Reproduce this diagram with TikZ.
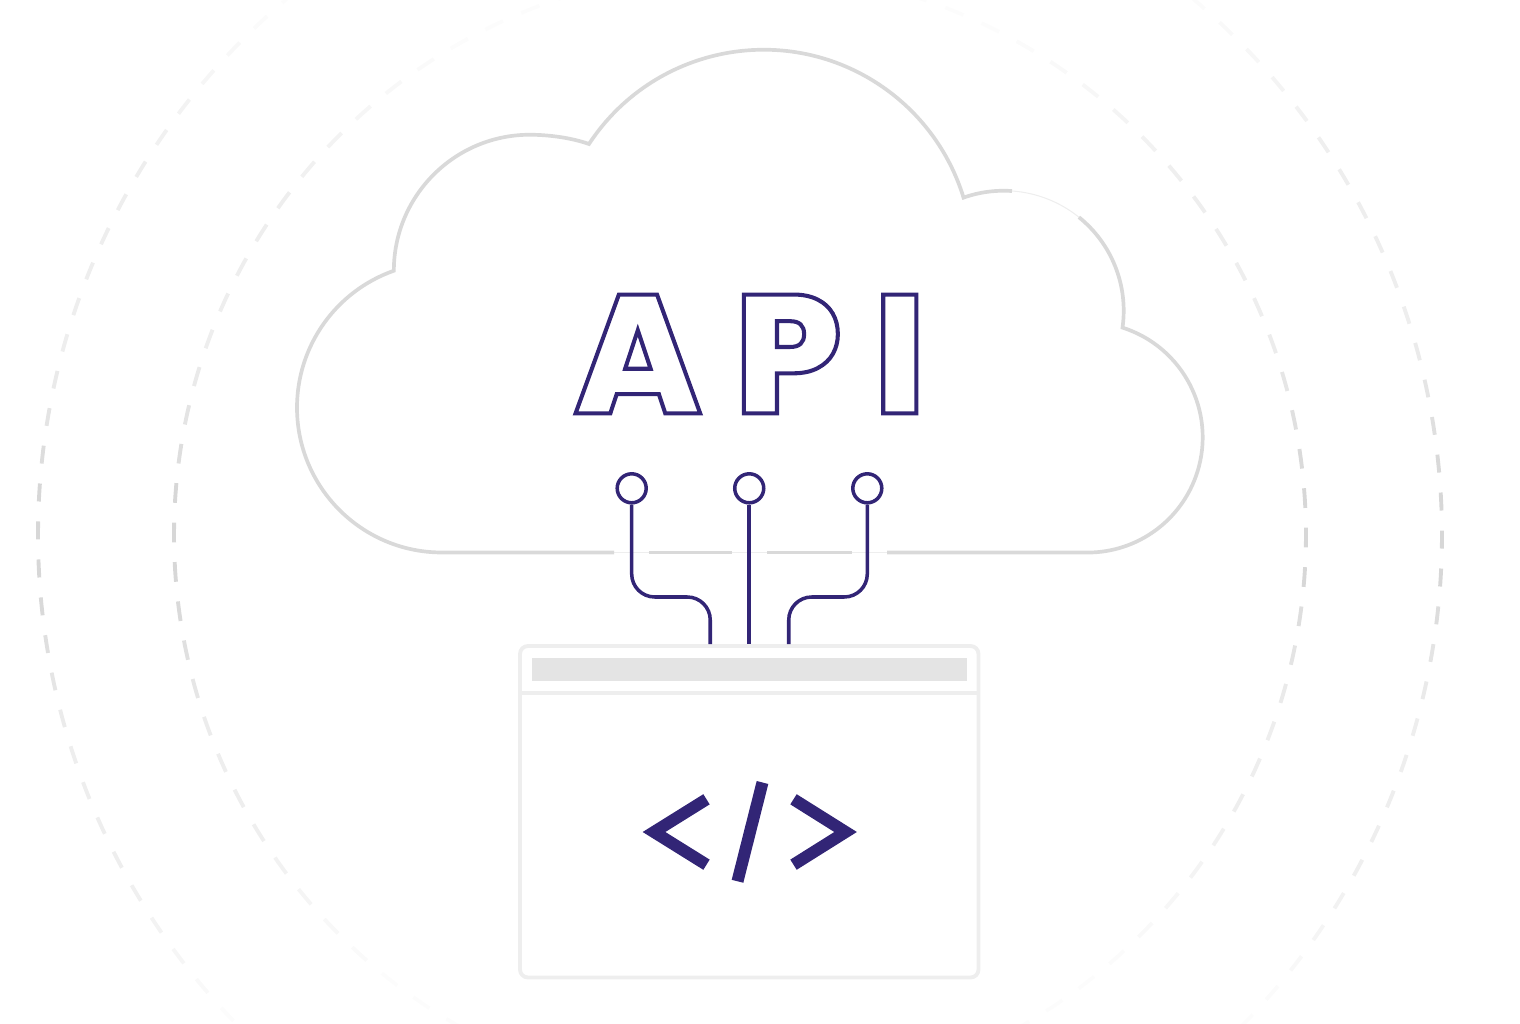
\documentclass[tikz,border=0pt]{standalone}
\usepackage{fontspec}
\newfontfamily\apifont{Poppins ExtraBold}
\definecolor{apinavy}{RGB}{50,37,118}
\definecolor{cloudgray}{RGB}{217,217,217}
\definecolor{windowgray}{RGB}{238,238,238}
\definecolor{bargray}{RGB}{228,228,228}
\definecolor{ringgray}{RGB}{215,215,215}
\newcommand{\outlined}[1]{\special{pdf:code 1 Tr 1.15 w}#1\special{pdf:code 0 Tr}}
\tikzset{
  cloudline/.style={draw=cloudgray,line width=1.05pt},
  cloudgap/.style={draw=windowgray,line width=0.3pt},
  ringdash/.style={draw=ringgray,line width=1.1pt},
  wire/.style={draw=apinavy,line width=1pt},
  pin/.style={circle,draw=apinavy,line width=1pt,fill=white,minimum size=0.29cm,inner sep=0pt,outer sep=0.5pt},
  codemark/.style={draw=apinavy,line width=0.12cm,miter limit=10},
  windowbox/.style={rectangle,draw=windowgray,line width=1.1pt,rounded corners=0.08cm,minimum width=4.585cm,minimum height=3.315cm,inner sep=0pt,outer sep=0.55pt}
}
\begin{document}
\begin{tikzpicture}
\useasboundingbox (0,0) rectangle (15.2,10.24);
\clip (0,0) rectangle (15.2,10.24);

\foreach \rr/\nn/\dd/\ph/\ts/\te/\bs/\be in {7.02/116/1.47/2.0/3.7/5.4/3.3/4.8,5.66/90/2.0/2.74/3.4/5.0/2.7/4.4} {
  \foreach \i in {1,...,\nn} {
    \pgfmathsetmacro{\a}{360/\nn*\i+\ph}
    \pgfmathsetmacro{\dist}{abs(\rr*sin(\a))}
    \pgfmathsetmacro{\base}{\dist<1.9 ? 1-0.57*max(0,\dist-0.5)/1.4 : 0.43}
    \pgfmathsetmacro{\tail}{sin(\a)>0 ? (\dist-\ts)/(\te-\ts) : (\dist-\bs)/(\be-\bs)}
    \pgfmathsetmacro{\op}{\base*(1-0.85*min(1,max(0,\tail)))}
    \draw[ringdash,opacity=\op] (7.4,4.89) ++(\a:\rr) arc[start angle=\a,delta angle=\dd,radius=\rr];
  }
}

\draw[cloudgap] (10.121,8.330) arc[start angle=86,end angle=51.2,radius=1.2];
\draw[cloudgap] (4.42,4.715) -- (10.875,4.715);

\draw[cloudline] (6.14,4.715) -- (4.42,4.715)
  arc[start angle=270,end angle=109.4,radius=1.45]
  arc[start angle=180,end angle=90,radius=1.36]
  .. controls (5.50,8.892) and (5.72,8.86) .. (5.89,8.80)
  arc[start angle=146.7,end angle=17,radius=2.09]
  arc[start angle=109.5,end angle=86,radius=1.2];
\draw[cloudline] (10.789,8.068)
  arc[start angle=51.2,end angle=-8.1,radius=1.2]
  arc[start angle=72.3,end angle=-90,radius=1.152]
  -- (8.87,4.715);
\draw[cloudline] (6.49,4.715) -- (7.32,4.715);
\draw[cloudline] (7.67,4.715) -- (8.52,4.715);

\node (apilabel) at (7.50,6.70) [text=apinavy,inner sep=0pt,font=\apifont\fontsize{48}{48}\selectfont] {\outlined{A\kern0.33cm P\kern0.32cm I}};

\node[windowbox] (window) at (7.4925,2.1225) {};
\fill[bargray] (5.317,3.66) rectangle (9.667,3.427);
\draw[draw=windowgray,line width=1.1pt] (5.2,3.31) -- (9.785,3.31);

\node[pin] (pinA) at (6.317,5.357) {};
\node[pin] (pinB) at (7.4925,5.357) {};
\node[pin] (pinC) at (8.673,5.357) {};

\coordinate (portA) at ([xshift=-0.39cm]window.north);
\coordinate (portC) at ([xshift=0.395cm]window.north);

\draw[wire,rounded corners=0.23cm] (pinA.south) -- (6.317,4.27) -- (7.1025,4.27) -- (portA);
\draw[wire] (pinB.south) -- (window.north);
\draw[wire,rounded corners=0.23cm] (pinC.south) -- (8.673,4.27) -- (7.8875,4.27) -- (portC);

\draw[codemark] (7.065,2.247) -- (6.54,1.92) -- (7.065,1.593);
\draw[codemark] (7.935,2.247) -- (8.456,1.92) -- (7.935,1.593);
\draw[codemark] (7.625,2.415) -- (7.375,1.427);
\end{tikzpicture}
\end{document}
